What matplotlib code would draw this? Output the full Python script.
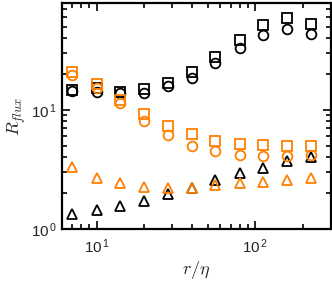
import matplotlib
matplotlib.use("Agg")
import matplotlib.pyplot as plt
from matplotlib.ticker import LogLocator, NullFormatter, FuncFormatter
import numpy as np

plt.rcParams['font.family'] = ['Liberation Sans', 'DejaVu Sans']
plt.rcParams['mathtext.fontset'] = 'custom'
plt.rcParams['mathtext.rm'] = 'Liberation Sans'

r_eta = [7, 10, 14, 20, 28, 40, 56, 80, 112, 158, 224]

black_sq = [14.8, 15.3, 14.2, 15.0, 16.9, 21.0, 27.7, 38.7, 51.8, 59.0, 52.8]
black_ci = [14.5, 14.1, 13.8, 14.0, 15.9, 18.7, 24.7, 33.0, 42.7, 48.0, 43.5]
black_tr = [1.34, 1.44, 1.56, 1.73, 1.96, 2.2, 2.58, 2.95, 3.25, 3.70, 4.02]

orange_sq = [21.0, 16.4, 12.2, 9.2, 7.3, 6.3, 5.5, 5.2, 5.1, 5.0, 5.0]
orange_ci = [19.6, 15.4, 11.4, 8.1, 6.2, 5.0, 4.5, 4.2, 4.1, 4.1, 4.2]
orange_tr = [3.3, 2.7, 2.42, 2.24, 2.2, 2.23, 2.34, 2.42, 2.5, 2.58, 2.67]

ORANGE = '#ff8000'
BLACK = '#000000'

fig = plt.figure(figsize=(3.32, 2.85), dpi=100)
ax = fig.add_axes([62/332, (285-229)/285, (331-62)/332, (229-3)/285])

kw = dict(linestyle='none', markerfacecolor='none', markersize=7, markeredgewidth=1.3)
ax.plot(r_eta, black_sq, marker='s', color=BLACK, **kw)
ax.plot(r_eta, black_ci, marker='o', color=BLACK, **kw)
ax.plot(r_eta, black_tr, marker='^', color=BLACK, **kw)
ax.plot(r_eta, orange_sq, marker='s', color=ORANGE, **kw)
ax.plot(r_eta, orange_ci, marker='o', color=ORANGE, **kw)
ax.plot(r_eta, orange_tr, marker='^', color=ORANGE, **kw)

ax.set_xscale('log')
ax.set_yscale('log')
ax.set_xlim(6.04, 300)
ax.set_ylim(1, 79)

def fmt(v, pos):
    e = int(round(np.log10(v)))
    return r'$\mathregular{10^{\,%d}}$' % e

ax.xaxis.set_major_locator(LogLocator(base=10, numticks=10))
ax.yaxis.set_major_locator(LogLocator(base=10, numticks=10))
ax.xaxis.set_major_formatter(FuncFormatter(fmt))
ax.yaxis.set_major_formatter(FuncFormatter(fmt))
ax.xaxis.set_minor_locator(LogLocator(base=10, subs=range(2, 10), numticks=20))
ax.yaxis.set_minor_locator(LogLocator(base=10, subs=range(2, 10), numticks=20))
ax.xaxis.set_minor_formatter(NullFormatter())
ax.yaxis.set_minor_formatter(NullFormatter())

ax.tick_params(which='both', direction='in', top=True, right=True, width=1.2,
               labelsize=11, labelcolor='#262626')
ax.tick_params(which='major', length=6)
ax.tick_params(which='minor', length=3.5)
ax.tick_params(axis='x', pad=6)
for s in ax.spines.values():
    s.set_linewidth(1.6)

xl = ax.set_xlabel(r'$r/\eta$', fontsize=13, color='#262626', labelpad=2)
yl = ax.set_ylabel(r'$R_{flux}$', fontsize=13, color='#262626', labelpad=2)
xl.set_math_fontfamily('cm')
yl.set_math_fontfamily('cm')

fig.savefig('out.png', dpi=100)
